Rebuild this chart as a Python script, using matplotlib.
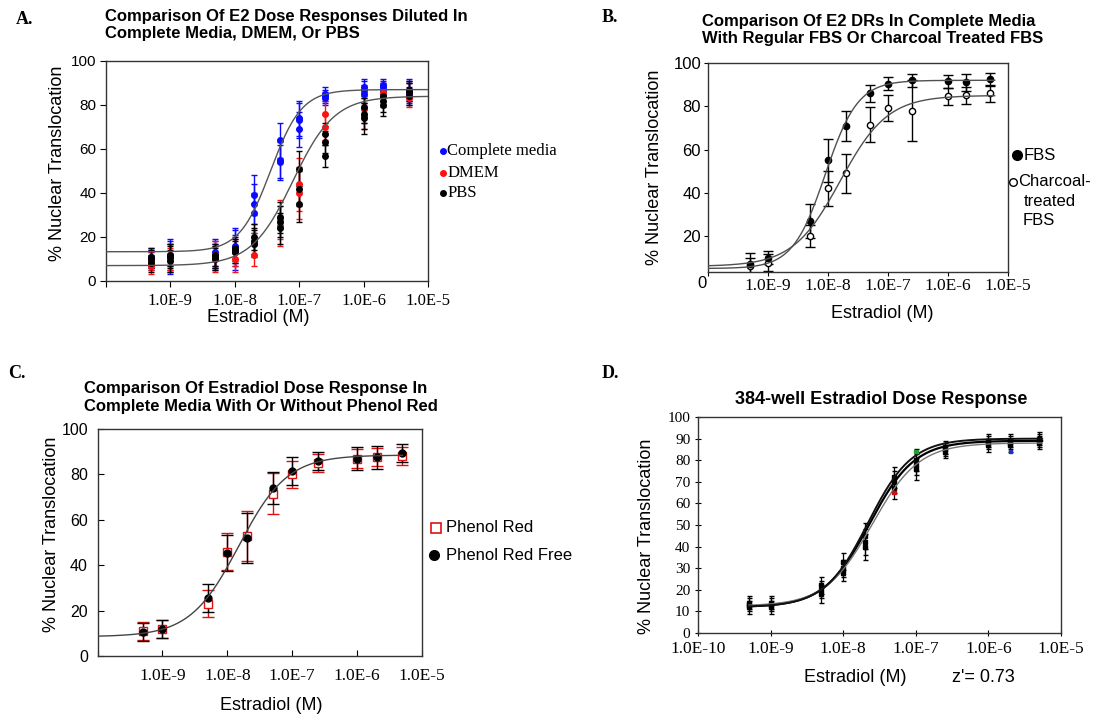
import numpy as np
import matplotlib
matplotlib.use("Agg")
import matplotlib.pyplot as plt
from matplotlib.lines import Line2D

W, H = 1096, 716
SANS = "Liberation Sans"
SERIF = "Liberation Serif"
plt.rcParams["font.family"] = SANS

# estradiol concentrations (M), same dilution series on every plate
doses = [5e-10, 1e-9, 5e-9, 1e-8, 2e-8, 5e-8, 1e-7, 2.5e-7, 1e-6, 2e-6, 5e-6]
decades = [1e-10, 1e-9, 1e-8, 1e-7, 1e-6, 1e-5]
decade_labels = ["", "1.0E-9", "1.0E-8", "1.0E-7", "1.0E-6", "1.0E-5"]
decade_labels_d = ["1.0E-10", "1.0E-9", "1.0E-8", "1.0E-7", "1.0E-6", "1.0E-5"]

# --- A: complete media / DMEM / PBS (replicate wells) ---
cm_rep1 = [10, 11, 12, 15, 39, 64, 74, 84, 87, 88, 87]
cm_rep2 = [9, 10, 11, 13, 35, 54, 73, 83, 85, 87, 85]
cm_rep3 = [11, 12, 13, 16, 31, 55, 69, 85, 88, 89, 86]
cm_err = [4, 7, 6, 8, 9, 8, 8, 3, 4, 3, 5]
dmem_rep1 = [9, 10, 10, 13, 17, 28, 44, 76, 78, 84, 86]
dmem_rep2 = [7, 12, 12, 10, 12, 25, 40, 70, 75, 86, 83]
dmem_err = [4, 5, 6, 6, 5, 9, 12, 6, 6, 4, 4]
pbs_rep1 = [10, 11, 10, 15, 20, 29, 51, 67, 79, 84, 87]
pbs_rep2 = [8, 9, 12, 13, 17, 24, 42, 63, 76, 80, 84]
pbs_rep3 = [11, 12, 11, 14, 18, 27, 35, 57, 74, 82, 86]
pbs_err = [4, 5, 5, 5, 6, 7, 8, 5, 7, 5, 4]
# fitted curves: bottom, top, EC50, hill
fit_cm = [13.3, 87, 3.6e-8, 1.8]
fit_pbs = [7, 84, 8e-8, 1.35]

# --- B: regular FBS vs charcoal treated FBS ---
fbs = [7, 10, 27, 55, 71, 86, 90.5, 92, 91.5, 91, 92.5]
fbs_err = [5, 3, 8, 10, 7, 4, 3, 3, 3, 4, 3]
charcoal = [6, 7.7, 20, 42, 49, 71.5, 79, 78, 84.6, 85, 86]
charcoal_err = [4, 4, 5, 8, 9, 8, 6, 14, 4, 4, 4]
fit_fbs = [5, 92, 9e-9, 1.6]
fit_charcoal = [6, 85, 1.6e-8, 1.1]

# --- C: with / without phenol red ---
phenol_red = [11, 12, 23, 46, 53, 71.5, 80, 85, 87, 87.5, 88]
phenol_red_err = [4, 4, 6, 8, 11, 9, 6, 4, 4, 4, 4]
phenol_free = [10.5, 12, 25.5, 45.5, 52, 74, 81.5, 86, 87, 87.5, 89.5]
phenol_free_err = [4, 4, 6, 8, 11, 7, 6, 4, 5, 5, 4]
fit_c = [8.5, 88.5, 1.5e-8, 1.16]

# --- D: 384-well plate, three runs ---
d_rep1 = [13, 13, 20, 30, 45, 70, 78, 86, 89, 89, 90]
d_rep2 = [12, 12, 18, 28, 42, 72, 80, 85, 88, 88, 89]
d_rep3 = [14, 14, 22, 33, 40, 67, 76, 84, 87, 87, 88]
d_err = [3, 3, 4, 4, 6, 5, 5, 3, 3, 3, 3]
d_flag_doses = [5e-8, 1e-7, 2e-6]
d_flag_values = [65, 84, 84]
d_flag_colors = ["#d01010", "#20a030", "#2030c0"]
fit_d = [[12, 89, 2.3e-8, 1.4], [12.5, 88, 2.5e-8, 1.35], [12, 90, 2.2e-8, 1.45]]


def four_pl(x, p):
    bottom, top, ec50, hill = p
    return bottom + (top - bottom) / (1 + (ec50 / x) ** hill)


def curve(ax, p, lo, hi, **kw):
    xs = np.logspace(np.log10(lo), np.log10(hi), 300)
    ax.plot(xs, four_pl(xs, p), zorder=3, **kw)


def fx(x):
    return x / W


def fy(y):
    return 1 - y / H


def axes_px(l, t, r, b):
    return fig.add_axes([fx(l), fy(b), (r - l) / W, (b - t) / H])


def key(x, y, label, dx, size, family, **mk):
    fig.add_artist(Line2D([fx(x)], [fy(y)], transform=fig.transFigure, ls="none", **mk))
    fig.text(fx(x + dx), fy(y), label, va="center", ha="left", fontsize=size, family=family)


def labels(ax, xlab_px, ylab_px):
    ax.set_xlabel("Estradiol (M)", fontsize=13)
    ax.set_ylabel("% Nuclear Translocation", fontsize=13)
    ax.xaxis.set_label_coords(fx(xlab_px[0]), fy(xlab_px[1]), transform=fig.transFigure)
    ax.yaxis.set_label_coords(fx(ylab_px[0]), fy(ylab_px[1]), transform=fig.transFigure)
    ax.xaxis.label.set(va="center", ha="center")
    ax.yaxis.label.set(va="center", ha="center", rotation_mode="default")


def log_axis(ax, ticklabels):
    ax.set_xscale("log")
    ax.set_xlim(1e-10, 1e-5)
    ax.set_xticks(decades, ticklabels)
    ax.xaxis.set_minor_locator(matplotlib.ticker.NullLocator())
    for t in ax.get_xticklabels():
        t.set_fontfamily(SERIF)
    for s in ax.spines.values():
        s.set_color("#333333")
        s.set_linewidth(1.0)


fig = plt.figure(figsize=(W / 100, H / 100), dpi=100)

# ---------------- A ----------------
ax = axes_px(106, 61, 428, 281)
log_axis(ax, decade_labels)
ax.set_ylim(0, 100)
ax.set_yticks([0, 20, 40, 60, 80, 100])
ax.tick_params(axis="x", direction="out", length=4, pad=5, labelsize=12)
ax.tick_params(axis="y", direction="out", length=4, pad=3, labelsize=11)
eb = dict(fmt="o", ms=4, capsize=2.5, elinewidth=1, capthick=1)
for rep in [cm_rep1, cm_rep2, cm_rep3]:
    ax.errorbar(doses, rep, yerr=cm_err, color="#0a0aff", **eb)
for rep in [dmem_rep1, dmem_rep2]:
    ax.errorbar(doses, rep, yerr=dmem_err, color="#ff1010", **eb)
for rep in [pbs_rep1, pbs_rep2, pbs_rep3]:
    ax.errorbar(doses, rep, yerr=pbs_err, color="black", **eb)
curve(ax, fit_cm, 1e-10, 1e-5, color="#555555", lw=1)
curve(ax, fit_pbs, 1e-10, 1e-5, color="#555555", lw=1)
labels(ax, (258, 318), (57.7, 163))
key(442.7, 151, "Complete media", 4.5, 12, SERIF, marker="o", ms=4, color="#0a0aff")
key(442.7, 173, "DMEM", 4.5, 12, SERIF, marker="o", ms=4, color="#ff1010")
key(442.7, 193, "PBS", 4.5, 12, SERIF, marker="o", ms=4, color="black")
fig.text(fx(105), fy(25), "Comparison Of E2 Dose Responses Diluted In\nComplete Media, DMEM, Or PBS",
         fontsize=12, fontweight="bold", ha="left", va="center", linespacing=1.2)
fig.text(fx(25), fy(19), "A.", family=SERIF, fontsize=13, fontweight="bold", ha="center", va="center")

# ---------------- B ----------------
ax = axes_px(708, 63, 1008, 272)
log_axis(ax, decade_labels)
ax.set_ylim(3.4, 100)
ax.set_yticks([20, 40, 60, 80, 100])
ax.tick_params(axis="x", direction="out", length=3, pad=1.5, labelsize=12.5)
ax.tick_params(axis="y", direction="out", length=3, pad=2, labelsize=12)
ax.annotate("0", xy=(0, 0), xycoords="axes fraction", xytext=(-4, -8.6),
            textcoords="offset points", ha="center", va="center", fontsize=12)
ebb = dict(ms=4.5, capsize=3.5, elinewidth=1, capthick=1, color="black", ecolor="black")
ax.errorbar(doses, charcoal, yerr=charcoal_err, fmt="o", mfc="white", mec="black", **ebb)
ax.errorbar(doses, fbs, yerr=fbs_err, fmt="o", **ebb)
curve(ax, fit_fbs, 1e-10, 6e-6, color="#505050", lw=1)
curve(ax, fit_charcoal, 1e-10, 6e-6, color="#505050", lw=1)
labels(ax, (882, 313), (654.6, 167))
key(1016.7, 155, "FBS", 6.5, 12, SANS, marker="o", ms=7, color="black")
key(1013, 182, "Charcoal-", 5, 12, SANS, marker="o", ms=5.5, mfc="white", mec="black")
fig.text(fx(1024), fy(201), "treated", fontsize=12, ha="left", va="center")
fig.text(fx(1023), fy(220), "FBS", fontsize=12, ha="left", va="center")
fig.text(fx(702), fy(30), "Comparison Of E2 DRs In Complete Media\nWith Regular FBS Or Charcoal Treated FBS",
         fontsize=12, fontweight="bold", ha="left", va="center", linespacing=1.2)
fig.text(fx(610), fy(18), "B.", family=SERIF, fontsize=13, fontweight="bold", ha="center", va="center")

# ---------------- C ----------------
ax = axes_px(97.6, 429, 422, 656)
log_axis(ax, decade_labels)
ax.set_ylim(0, 100)
ax.set_yticks([0, 20, 40, 60, 80, 100])
ax.tick_params(axis="x", direction="in", length=4, pad=9, labelsize=12.5)
ax.tick_params(axis="y", direction="in", length=4, pad=7, labelsize=11.5)
ax.errorbar(doses, phenol_red, yerr=phenol_red_err, fmt="s", ms=5.5, mfc="white", mec="#e01010",
            color="#e01010", capsize=4, elinewidth=1, capthick=1)
ax.errorbar(doses, phenol_free, yerr=phenol_free_err, fmt="o", ms=5, color="black",
            capsize=4, elinewidth=1, capthick=1)
curve(ax, fit_c, 1e-10, 5e-6, color="#444444", lw=1)
labels(ax, (271.7, 705), (51.7, 534))
key(436.3, 528, "Phenol Red", 9.5, 12, SANS, marker="s", ms=7, mfc="white", mec="#e01010", mew=1.2)
key(434.4, 555, "Phenol Red Free", 11.4, 12, SANS, marker="o", ms=7, color="black")
fig.text(fx(84), fy(397.5), "Comparison Of Estradiol Dose Response In\nComplete Media With Or Without Phenol Red",
         fontsize=12, fontweight="bold", ha="left", va="center", linespacing=1.25)
fig.text(fx(17), fy(373), "C.", family=SERIF, fontsize=13, fontweight="bold", ha="center", va="center")

# ---------------- D ----------------
ax = axes_px(698, 417, 1061, 633)
log_axis(ax, decade_labels_d)
ax.set_ylim(0, 100)
ax.set_yticks(range(0, 101, 10))
for t in ax.get_yticklabels():
    t.set_fontfamily(SERIF)
ax.tick_params(axis="x", direction="inout", length=5, pad=3, labelsize=12.5)
ax.tick_params(axis="y", direction="inout", length=5, pad=3, labelsize=11)
for rep in [d_rep1, d_rep2, d_rep3]:
    ax.errorbar(doses, rep, yerr=d_err, fmt="s", ms=2.8, color="black",
                capsize=1.8, elinewidth=0.9, capthick=1)
ax.scatter(d_flag_doses, d_flag_values, marker="s", s=6, c=d_flag_colors, zorder=4)
curve(ax, fit_d[0], 5e-10, 5.5e-6, color="black", lw=1.6)
curve(ax, fit_d[1], 5e-10, 5.5e-6, color="#777777", lw=1.0)
curve(ax, fit_d[2], 5e-10, 5.5e-6, color="#111111", lw=1.4)
labels(ax, (855.3, 677), (646.7, 536.7))
fig.text(fx(983.3), fy(677), "z'= 0.73", fontsize=13, ha="center", va="center")
fig.text(fx(880.7), fy(400), "384-well Estradiol Dose Response",
         fontsize=13, fontweight="bold", ha="center", va="center")
fig.text(fx(610), fy(373), "D.", family=SERIF, fontsize=13, fontweight="bold", ha="center", va="center")

fig.savefig("out.png", dpi=100)
